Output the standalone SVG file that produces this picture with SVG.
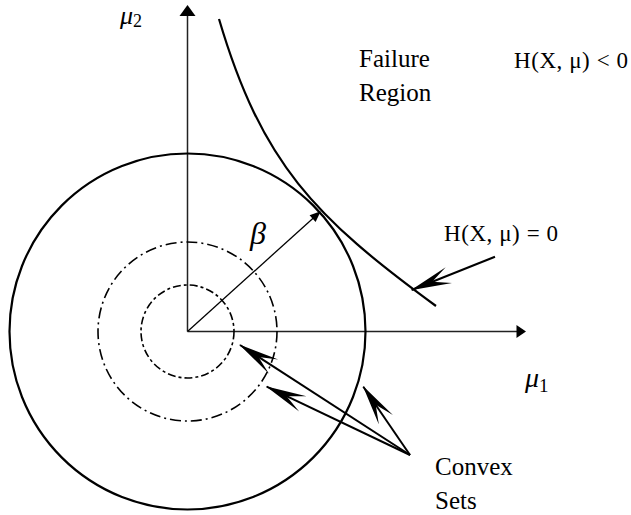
<svg xmlns="http://www.w3.org/2000/svg" width="631" height="515" viewBox="0 0 631 515">
<style>
.axis{stroke:#222;stroke-width:1.5;fill:none}
.thick{stroke:#000;stroke-width:2.2;fill:none}
.dd1{stroke:#000;stroke-width:1.6;fill:none;stroke-dasharray:11 4 2 4}
.dd2{stroke:#000;stroke-width:1.6;fill:none;stroke-dasharray:8 3 3 3}
.ptr{stroke:#000;stroke-width:2;fill:none}
.serif{font-family:"Liberation Serif","Times New Roman",serif;fill:#000}
.math{font-family:"Liberation Serif","Times New Roman",serif;font-style:italic;fill:#000}
</style>
<defs>
<marker id="barb" markerUnits="userSpaceOnUse" viewBox="-42 -10 44 20" markerWidth="44" markerHeight="20" refX="0" refY="0" orient="auto" overflow="visible">
<path d="M1,0 L-40,-8.5 L-22,0 L-40,8.5 Z" fill="#000"/>
</marker>
<marker id="small" markerUnits="userSpaceOnUse" viewBox="-12 -6 14 12" markerWidth="14" markerHeight="12" refX="0" refY="0" orient="auto" overflow="visible">
<path d="M1,0 L-10,-4.5 L-10,4.5 Z" fill="#000"/>
</marker>
</defs>

<g id="axes">
<line class="axis" x1="187.5" y1="331.5" x2="187.5" y2="14"/>
<polygon points="187.5,5 179.5,16 195.5,16" fill="#000"/>
<line class="axis" x1="187.5" y1="331.5" x2="518" y2="331.5"/>
<polygon points="526,331.5 516.5,325 516.5,338" fill="#000"/>
</g>

<g id="outer-circle">
<circle class="thick" cx="187.5" cy="331.5" r="178"/>
</g>
<g id="middle-circle">
<circle class="dd1" cx="187.5" cy="331.5" r="89.5"/>
</g>
<g id="inner-circle">
<circle class="dd2" cx="187.5" cy="331.5" r="46.5"/>
</g>

<g id="limit-curve">
<path class="thick" d="M219,19 C261.75,163.7 315,217.5 436,306"/>
</g>

<g id="connectors">
<line x1="187.5" y1="331.5" x2="320" y2="212" stroke="#000" stroke-width="1.3" marker-end="url(#small)"/>
<line class="ptr" x1="495" y1="256.7" x2="411.7" y2="290" marker-end="url(#barb)"/>
<line class="ptr" x1="410" y1="455" x2="240" y2="345" marker-end="url(#barb)"/>
<line class="ptr" x1="410" y1="455" x2="266.7" y2="386.7" marker-end="url(#barb)"/>
<line class="ptr" x1="410" y1="455" x2="363.3" y2="386.7" marker-end="url(#barb)"/>
</g>

<g id="labels">
<text class="math" x="120" y="24" font-size="26">μ<tspan font-style="normal" font-size="18" dy="3">2</tspan></text>
<text class="math" x="525" y="387" font-size="28">μ<tspan font-style="normal" font-size="19" dy="5">1</tspan></text>
<text class="math" x="250" y="244" font-size="32">β</text>
<text class="serif" x="359" y="67" font-size="25">Failure</text>
<text class="serif" x="359" y="101" font-size="25">Region</text>
<text class="serif" x="514" y="67.5" font-size="23" textLength="114" lengthAdjust="spacing">H(X, μ) &lt; 0</text>
<text class="serif" x="444" y="240.7" font-size="23" textLength="114" lengthAdjust="spacing">H(X, μ) = 0</text>
<text class="serif" x="435" y="475" font-size="25">Convex</text>
<text class="serif" x="435" y="509" font-size="25">Sets</text>
</g>
</svg>
